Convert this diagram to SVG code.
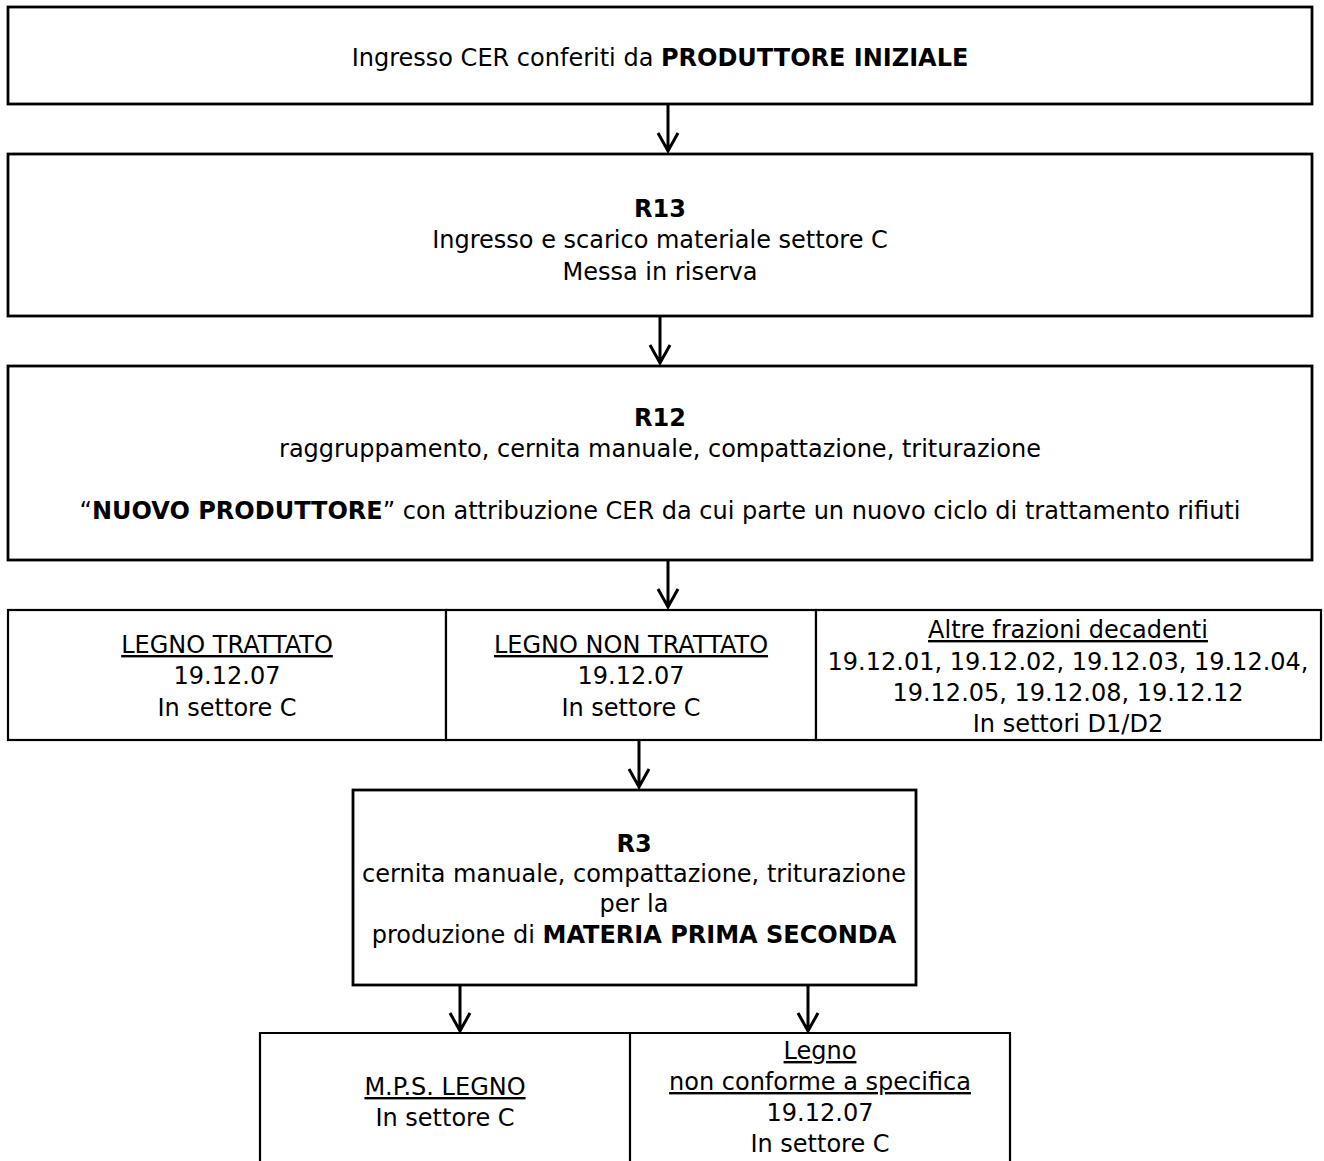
<svg xmlns="http://www.w3.org/2000/svg" width="1324" height="1161" viewBox="0 0 1324 1161">
<defs>
<style>
.box{fill:#fff;stroke:#000;stroke-width:2.8}
.cell{fill:#fff;stroke:#000;stroke-width:2.2}
.ln{stroke:#000;stroke-width:2.2;fill:none}
.arr{stroke:#000;stroke-width:3;fill:none}
text{font-family:"DejaVu Sans","Liberation Sans",sans-serif;font-size:24px;fill:#000;text-anchor:middle}
.b{font-weight:bold}
.u{text-decoration:underline}
</style>
</defs>
<rect width="1324" height="1161" fill="#fff"/>
<g id="connectors">
<path class="arr" d="M668,104V151M658,133L668,151L678,133"/>
<path class="arr" d="M660,316V363M650,345L660,363L670,345"/>
<path class="arr" d="M668,560V607M658,589L668,607L678,589"/>
<path class="arr" d="M639,740V787M629,769L639,787L649,769"/>
<path class="arr" d="M460,985V1031M450,1013L460,1031L470,1013"/>
<path class="arr" d="M808,985V1031M798,1013L808,1031L818,1013"/>
</g>
<g id="n1">
<rect class="box" x="8" y="7" width="1304" height="97"/>
<text x="660" y="66">Ingresso CER conferiti da <tspan class="b">PRODUTTORE INIZIALE</tspan></text>
</g>
<g id="n2">
<rect class="box" x="8" y="154" width="1304" height="162"/>
<text x="660" y="217" class="b">R13</text>
<text x="660" y="248">Ingresso e scarico materiale settore C</text>
<text x="660" y="280">Messa in riserva</text>
</g>
<g id="n3">
<rect class="box" x="8" y="366" width="1304" height="194"/>
<text x="660" y="426" class="b">R12</text>
<text x="660" y="457">raggruppamento, cernita manuale, compattazione, triturazione</text>
<text x="660" y="519">“<tspan class="b">NUOVO PRODUTTORE</tspan>” con attribuzione CER da cui parte un nuovo ciclo di trattamento rifiuti</text>
</g>
<g id="n4">
<rect class="cell" x="8" y="610" width="438" height="130"/>
<text x="227" y="653" class="u">LEGNO TRATTATO</text>
<text x="227" y="684">19.12.07</text>
<text x="227" y="716">In settore C</text>
</g>
<g id="n5">
<rect class="cell" x="446" y="610" width="370" height="130"/>
<text x="631" y="653" class="u">LEGNO NON TRATTATO</text>
<text x="631" y="684">19.12.07</text>
<text x="631" y="716">In settore C</text>
</g>
<g id="n6">
<rect class="cell" x="816" y="610" width="505" height="130"/>
<text x="1068" y="638" class="u">Altre frazioni decadenti</text>
<text x="1068" y="670">19.12.01, 19.12.02, 19.12.03, 19.12.04,</text>
<text x="1068" y="701">19.12.05, 19.12.08, 19.12.12</text>
<text x="1068" y="732">In settori D1/D2</text>
</g>
<g id="n7">
<rect class="box" x="353" y="790" width="563" height="195"/>
<text x="634" y="852" class="b">R3</text>
<text x="634" y="882">cernita manuale, compattazione, triturazione</text>
<text x="634" y="912">per la</text>
<text x="634" y="943">produzione di <tspan class="b">MATERIA PRIMA SECONDA</tspan></text>
</g>
<g id="n8">
<path class="ln" d="M260,1170V1033H630V1170"/>
<text x="445" y="1095" class="u">M.P.S. LEGNO</text>
<text x="445" y="1126">In settore C</text>
</g>
<g id="n9">
<path class="ln" d="M630,1033H1010V1170"/>
<text x="820" y="1059" class="u">Legno</text>
<text x="820" y="1090" class="u">non conforme a specifica</text>
<text x="820" y="1121">19.12.07</text>
<text x="820" y="1152">In settore C</text>
</g>
</svg>
